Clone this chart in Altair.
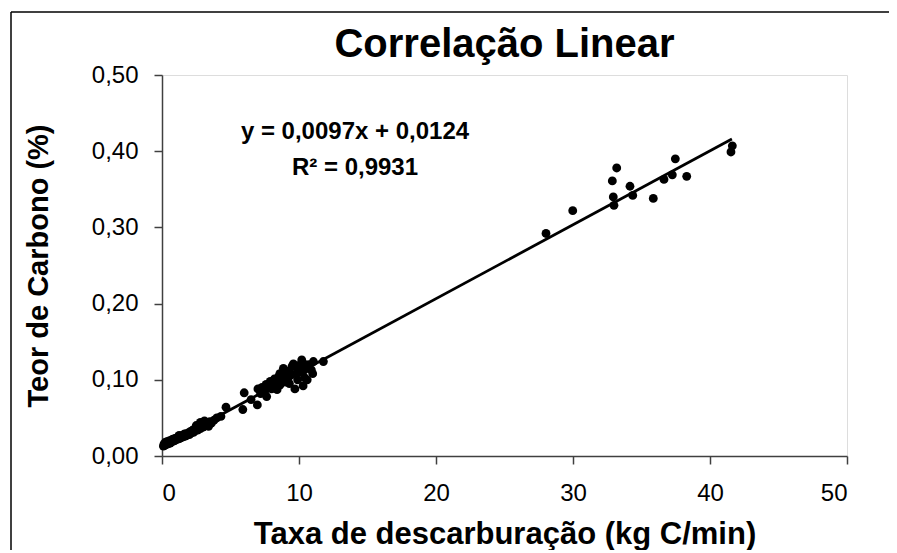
import altair as alt
import pandas as pd

taxa = [
    0.10, 0.15, 0.20, 0.25, 0.30, 0.35, 0.40, 0.45, 0.50, 0.55, 0.60, 0.70, 0.75, 0.80, 0.90,
    0.95, 1.00, 1.10, 1.15, 1.20, 1.30, 1.35, 1.40, 1.50, 1.55, 1.60, 1.70, 1.75, 1.80, 1.90,
    2.00, 2.05, 2.10, 2.20, 2.30, 2.35, 2.40, 2.50, 2.60, 2.70, 2.80, 2.90, 3.00, 3.10, 3.20,
    3.30, 3.50, 3.60, 3.80, 4.00, 3.40, 2.50, 2.80, 3.10, 1.25, 0.65, 1.65, 2.25,
    4.30, 4.67, 5.90, 6.00, 6.50, 6.96, 7.00, 7.20, 7.30, 7.50, 7.64, 7.80, 7.90, 8.00, 8.10,
    8.20, 8.30, 8.40, 8.50, 8.60, 8.60, 8.80, 8.86, 8.90, 9.00, 9.10, 9.20, 9.30, 9.40, 9.50,
    9.59, 9.70, 9.80, 9.90, 10.00, 10.10, 10.20, 10.30, 10.30, 10.40, 10.50, 10.60, 10.70,
    11.05, 11.78, 10.90, 11.00, 7.60, 8.20, 8.70, 9.30, 9.90, 10.40,
    28.03, 29.98, 33.19, 32.87, 32.94, 32.99, 34.16, 34.36, 35.86, 36.64, 37.25, 37.47,
    38.30, 41.53, 41.63,
]
teor = [
    0.013, 0.016, 0.014, 0.018, 0.015, 0.017, 0.019, 0.016, 0.018, 0.020, 0.017, 0.021, 0.019, 0.022, 0.020,
    0.023, 0.021, 0.024, 0.022, 0.025, 0.023, 0.026, 0.024, 0.027, 0.025, 0.028, 0.026, 0.029, 0.027, 0.030,
    0.028, 0.032, 0.030, 0.033, 0.031, 0.035, 0.033, 0.036, 0.034, 0.038, 0.036, 0.040, 0.038, 0.042, 0.044,
    0.041, 0.045, 0.043, 0.047, 0.050, 0.039, 0.040, 0.044, 0.046, 0.027, 0.019, 0.029, 0.034,
    0.052, 0.064, 0.061, 0.083, 0.074, 0.067, 0.088, 0.082, 0.090, 0.085, 0.078, 0.092, 0.098, 0.088, 0.095,
    0.101, 0.098, 0.087, 0.104, 0.093, 0.108, 0.100, 0.115, 0.107, 0.097, 0.110, 0.102, 0.112, 0.106, 0.118,
    0.121, 0.088, 0.108, 0.115, 0.119, 0.110, 0.126, 0.092, 0.122, 0.103, 0.116, 0.100, 0.120,
    0.124, 0.124, 0.113, 0.108, 0.094, 0.091, 0.099, 0.095, 0.100, 0.113,
    0.292, 0.322, 0.378, 0.361, 0.340, 0.329, 0.354, 0.342, 0.338, 0.363, 0.369, 0.390,
    0.367, 0.399, 0.407,
]

# Trend line end points
trend_x = [0.1, 41.6]
trend_y = [0.0134, 0.416]

title_text = "Correlação Linear"
x_title = "Taxa de descarburação (kg C/min)"
y_title = "Teor de Carbono (%)"
eq_text = "y = 0,0097x + 0,0124"
r2_text = "R² = 0,9931"
x_ticks = [0, 10, 20, 30, 40, 50]
y_ticks = [0.0, 0.1, 0.2, 0.3, 0.4, 0.5]

FONT = "Liberation Sans, Arial, Helvetica, sans-serif"
AX = "#404040"

pts = pd.DataFrame({"x": taxa, "y": teor})
trend = pd.DataFrame({"x": trend_x, "y": trend_y})
texts = pd.DataFrame({"title": [title_text], "eq": [eq_text], "r2": [r2_text]})

xscale = alt.Scale(domain=[0, 50], nice=False, zero=True)
yscale = alt.Scale(domain=[0, 0.5], nice=False, zero=True)

xaxis = alt.Axis(
    values=x_ticks, grid=False, tickSize=8, tickWidth=1.5, tickColor=AX,
    domainColor=AX, domainWidth=1.5, labelFontSize=24, labelFont=FONT,
    labelColor="black", labelPadding=17, title=x_title, titleFont=FONT,
    titleFontSize=31, titleFontWeight="bold", titleColor="black",
    titleX=342.5, titleY=78, titleBaseline="middle", titleAlign="center",
)
yaxis = alt.Axis(
    values=y_ticks, grid=False, tickSize=8, tickWidth=1.5, tickColor=AX,
    domainColor=AX, domainWidth=1.5, labelFontSize=24, labelFont=FONT,
    labelColor="black", labelPadding=16,
    labelExpr="replace(format(datum.value, '.2f'), '.', ',')",
    title=y_title, titleFont=FONT, titleFontSize=29, titleFontWeight="bold",
    titleColor="black", titleX=-124, titleY=190.5, titleBaseline="middle",
    titleAlign="center", titleAngle=270,
)

points = alt.Chart(pts).mark_circle(size=78, color="black", opacity=1).encode(
    x=alt.X("x:Q", scale=xscale, axis=xaxis),
    y=alt.Y("y:Q", scale=yscale, axis=yaxis),
)

line = alt.Chart(trend).mark_line(color="black", strokeWidth=2.8).encode(
    x=alt.X("x:Q", scale=xscale),
    y=alt.Y("y:Q", scale=yscale),
)

def label(field, size, xpx, ypx):
    return alt.Chart(texts).mark_text(
        font=FONT, fontSize=size, fontWeight="bold", color="black",
        align="center", baseline="middle",
    ).encode(x=alt.value(xpx), y=alt.value(ypx), text=f"{field}:N")

title = label("title", 40, 342.5, -30)
eq = label("eq", 24, 193, 57)
r2 = label("r2", 24, 193, 93)

border_left = alt.Chart(texts).mark_rule(color="black", strokeWidth=1.5).encode(
    x=alt.value(-151), y=alt.value(-63), y2=alt.value(1000)
)
border_top = alt.Chart(texts).mark_rule(color="black", strokeWidth=1.5).encode(
    x=alt.value(-151), x2=alt.value(1000), y=alt.value(-63)
)

chart = alt.layer(border_left, border_top, line, points, title, eq, r2).properties(
    width=685,
    height=381,
    autosize=alt.AutoSizeParams(type="none"),
    padding={"left": 154, "top": 67, "right": 42, "bottom": 94},
).configure_view(stroke="#a6a6a6", strokeWidth=1.5).configure(background="white")

chart.save("out.html", embed_options={"renderer": "svg", "actions": False})
